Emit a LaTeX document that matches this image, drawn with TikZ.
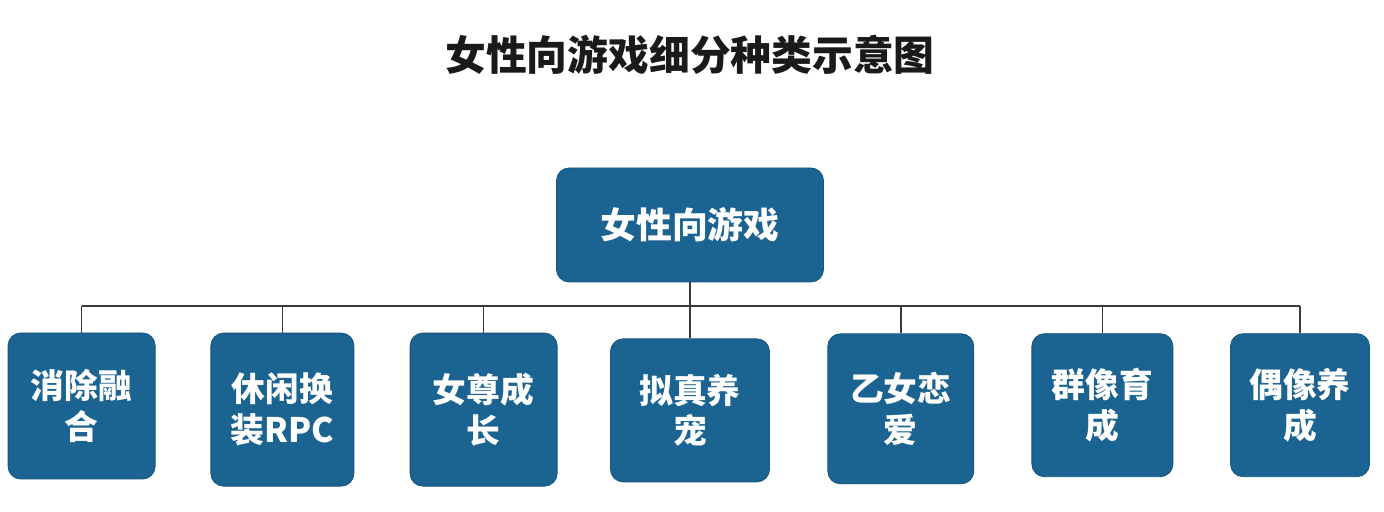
\documentclass[tikz,border=0pt]{standalone}
\usepackage{fontspec}
\newfontfamily\cjk{Noto Sans CJK SC}
\usepackage{xcolor}
\definecolor{fgblue}{HTML}{1B6391}
\definecolor{fgedge}{HTML}{17557D}
\definecolor{fgink}{HTML}{1A1A1A}
\definecolor{fgrule}{HTML}{3A3A3A}
\usepackage{tikz}
\usetikzlibrary{positioning,calc}
\tikzset{
  fgbox/.style  ={rectangle, rounded corners=9pt, draw=fgedge, fill=fgblue,
                  line width=0.6pt, align=center, text=white,
                  font=\cjk\bfseries\fontsize{24}{29}\selectfont},
  fgroot/.style ={fgbox, font=\cjk\bfseries\fontsize{25.5}{30}\selectfont},
  fgline/.style ={line width=1pt, draw=fgrule},
  fgtitle/.style={font=\cjk\bfseries\fontsize{29}{34}\selectfont, text=fgink},
}

\begin{document}
\begin{tikzpicture}
  \useasboundingbox[fill=white] (0,0) rectangle (34.6,-12.8);
  \node[fgtitle] (title) at (17.25,-1.38) {女性向游戏细分种类示意图};

  \node[fgroot, minimum width=6.675cm, minimum height=2.85cm] (root) at (17.25,-5.625) {女性向游戏};
  \coordinate (bus) at (0,-7.65);

  \node[fgbox, minimum width=3.675cm, minimum height=3.65cm]  (xc) at (2.04,-10.15)  {消除融\\合};
  \node[fgbox, minimum width=3.575cm, minimum height=3.825cm] (hz) at (7.06,-10.24)  {休闲换\\装RPC};
  \node[fgbox, minimum width=3.675cm, minimum height=3.825cm] (nz) at (12.09,-10.24) {女尊成\\长};
  \node[fgbox, minimum width=3.975cm, minimum height=3.575cm] (nc) at (17.25,-10.26) {拟真养\\宠};
  \node[fgbox, minimum width=3.65cm,  minimum height=3.75cm]  (yn) at (22.52,-10.22) {乙女恋\\爱};
  \node[fgbox, minimum width=3.525cm, minimum height=3.575cm] (qx) at (27.56,-10.13) {群像育\\成};
  \node[fgbox, minimum width=3.475cm, minimum height=3.575cm] (ox) at (32.5,-10.13)  {偶像养\\成};

  \draw[fgline] (root.south) -- (nc.north);
  \draw[fgline] (xc.north |- bus) -- (ox.north |- bus);
  \draw[fgline] (xc.north) -- (xc.north |- bus);
  \draw[fgline] (hz.north) -- (hz.north |- bus);
  \draw[fgline] (nz.north) -- (nz.north |- bus);
  \draw[fgline] (yn.north) -- (yn.north |- bus);
  \draw[fgline] (qx.north) -- (qx.north |- bus);
  \draw[fgline] (ox.north) -- (ox.north |- bus);
\end{tikzpicture}
\end{document}
